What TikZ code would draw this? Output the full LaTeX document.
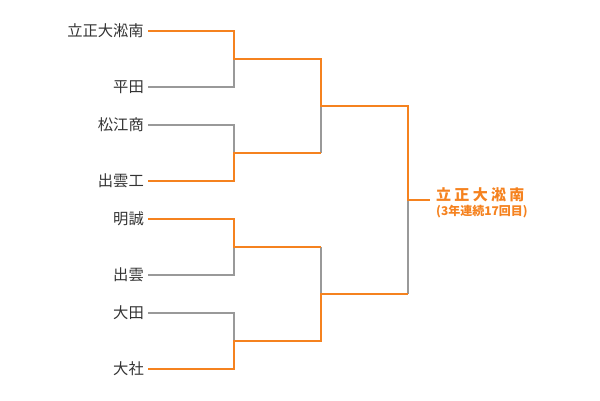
\documentclass[tikz,border=0pt]{standalone}
\usepackage{fontspec}
\newfontfamily\jpfont{Noto Sans CJK JP}
\newfontfamily\jpwide[LetterSpace=22]{Noto Sans CJK JP}
\definecolor{winline}{RGB}{245,130,31}
\definecolor{loseline}{RGB}{153,153,153}
\definecolor{teamtext}{RGB}{51,51,51}
\tikzset{
  team/.style={anchor=east,inner xsep=4pt,inner ysep=0pt,text=teamtext,font=\jpfont\fontsize{15.3}{15.3}\selectfont},
  won/.style={draw=winline,line width=2pt},
  lost/.style={draw=loseline,line width=2pt}
}

\begin{document}
\begin{tikzpicture}[x=1pt,y=-1pt]
            \useasboundingbox (0,0) rectangle (600,400);
            \node[team] (t1) at (148,31) {立正大淞南};
            \node[team] (t2) at (148,87) {平田};
            \node[team] (t3) at (148,125) {松江商};
            \node[team] (t4) at (148,181) {出雲工};
            \node[team] (t5) at (148,219) {明誠};
            \node[team] (t6) at (148,275) {出雲};
            \node[team] (t7) at (148,313) {大田};
            \node[team] (t8) at (148,369) {大社};
            \coordinate (a1) at (234,31);
            \coordinate (a2) at (234,87);
            \coordinate (a3) at (234,125);
            \coordinate (a4) at (234,181);
            \coordinate (a5) at (234,219);
            \coordinate (a6) at (234,275);
            \coordinate (a7) at (234,313);
            \coordinate (a8) at (234,369);
            \coordinate (m1) at (234,59);
            \coordinate (m2) at (234,153);
            \coordinate (m3) at (234,247);
            \coordinate (m4) at (234,341);
            \coordinate (b1) at (321,59);
            \coordinate (b2) at (321,153);
            \coordinate (b3) at (321,247);
            \coordinate (b4) at (321,341);
            \coordinate (n1) at (321,106);
            \coordinate (n2) at (321,294);
            \coordinate (c1) at (408,106);
            \coordinate (c2) at (408,294);
            \coordinate (f) at (408,200);
            \coordinate (g) at (430,200);
            \draw[lost] (t2.east)--(a2)--(m1);
            \draw[lost] (t3.east)--(a3)--(m2);
            \draw[lost] (t6.east)--(a6)--(m3);
            \draw[lost] (t7.east)--(a7)--(m4);
            \draw[lost] (b2)--(n1);
            \draw[lost] (b3)--(n2);
            \draw[lost] (c2)--(f);
            \draw[won] (t1.east)--(a1)--(m1)--(b1)--(n1)--(c1)--(f)--(g);
            \draw[won] (t4.east)--(a4)--(m2)--(b2);
            \draw[won] (t5.east)--(a5)--(m3)--(b3);
            \draw[won] (t8.east)--(a8)--(m4)--(b4)--(n2)--(c2);
            \node[anchor=west,inner sep=0pt,text=winline,font=\jpwide\bfseries\fontsize{15}{15}\selectfont] (champ) at (436,195) {立正大淞南};
            \node[anchor=west,inner sep=0pt,text=winline,font=\jpfont\bfseries\fontsize{12}{12}\selectfont] (note) at (436,212) {(3年連続17回目)};
        \end{tikzpicture}
\end{document}
